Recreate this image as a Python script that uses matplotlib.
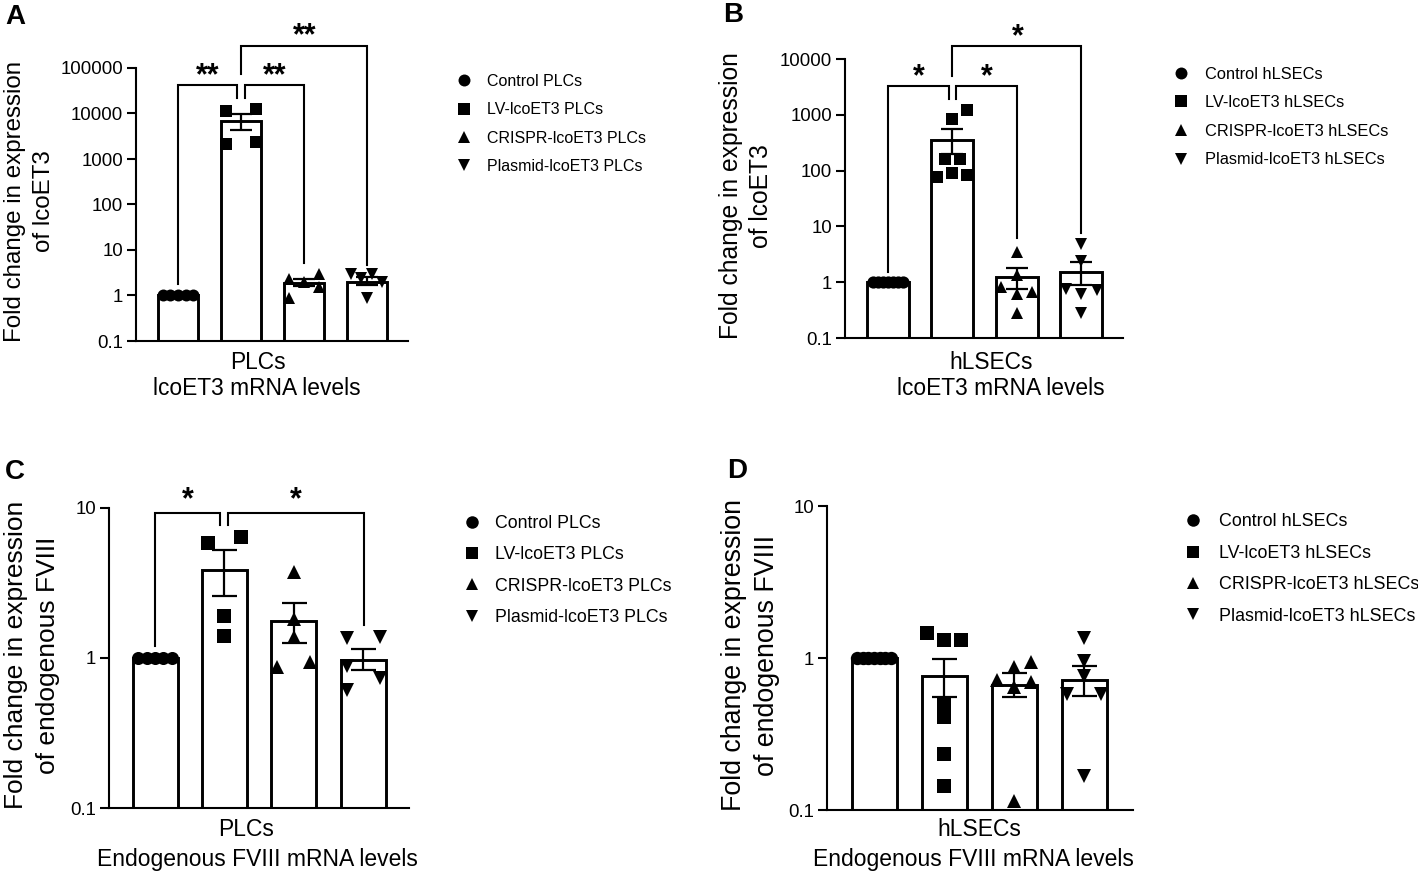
import matplotlib
matplotlib.use('Agg')
import matplotlib.pyplot as plt
from matplotlib.lines import Line2D

plt.rcParams['font.family'] = ['Liberation Sans', 'DejaVu Sans']

W, H = 1418, 872
fig = plt.figure(figsize=(W / 100, H / 100), dpi=100)

groups = ['Control', 'LV-lcoET3', 'CRISPR-lcoET3', 'Plasmid-lcoET3']
shapes = ['o', 's', '^', 'v']

# Panel A values
a_means = [1, 6840, 1.88, 1.98]
a_low = [1, 4400, 1.6, 1.66]
a_high = [1, 9550, 2.34, 2.55]
a_points = [[1, 1, 1, 1, 1],
            [11350, 12770, 2100, 2360],
            [2.31, 0.88, 1.98, 2.97, 1.54],
            [2.97, 2.43, 2.97, 1.98, 0.88]]
a_offsets = [[-0.24, -0.12, 0, 0.12, 0.24],
             [-0.24, 0.24, -0.24, 0.24],
             [-0.24, -0.24, 0, 0.24, 0.24],
             [-0.25, -0.095, 0.08, 0.24, 0]]

# Panel B values
b_means = [1, 357, 1.24, 1.53]
b_low = [1, 200, 0.77, 0.89]
b_high = [1, 554, 1.8, 2.28]
b_points = [[1, 1, 1, 1, 1, 1, 1],
            [1200, 851, 160, 160, 76, 92, 82],
            [3.54, 1.35, 0.83, 0.66, 0.62, 0.285],
            [4.8, 2.4, 0.75, 0.73, 0.62, 0.285]]
b_offsets = [[-0.24, -0.16, -0.08, 0, 0.08, 0.16, 0.24],
             [0.23, 0, -0.12, 0.12, -0.24, 0, 0.23],
             [0, 0, -0.24, 0.24, 0, 0],
             [0, 0, -0.24, 0.24, 0, 0]]

# Panel C values
c_means = [1, 3.84, 1.76, 0.975]
c_low = [1, 2.6, 1.26, 0.83]
c_high = [1, 5.25, 2.33, 1.15]
c_points = [[1, 1, 1, 1, 1],
            [5.84, 6.4, 1.92, 1.41],
            [3.74, 1.83, 1.39, 0.875, 0.945],
            [1.36, 1.39, 0.88, 0.74, 0.61]]
c_offsets = [[-0.24, -0.12, 0, 0.12, 0.24],
             [-0.24, 0.24, 0, 0],
             [0, 0, 0, -0.24, 0.24],
             [-0.24, 0.24, -0.24, 0.24, -0.24]]

# Panel D values
d_means = [1, 0.76, 0.668, 0.717]
d_low = [1, 0.554, 0.554, 0.565]
d_high = [1, 0.985, 0.80, 0.885]
d_points = [[1, 1, 1, 1, 1, 1, 1],
            [1.45, 1.31, 1.32, 0.506, 0.407, 0.232, 0.143],
            [0.945, 0.873, 0.713, 0.695, 0.64, 0.114],
            [1.35, 0.96, 0.766, 0.583, 0.583, 0.167]]
d_offsets = [[-0.24, -0.16, -0.08, 0, 0.08, 0.16, 0.24],
             [-0.24, 0, 0.24, 0, 0, 0, 0],
             [0.24, 0, -0.24, 0.24, 0, 0],
             [0, 0, 0, -0.24, 0.24, 0]]


def fx(px):
    return px / W


def fy(py):
    return 1 - py / H


def panel(box, c0, step, width, ylim, ticks, tick_labels, means, low, high,
          points, offsets, cap, ms):
    left, top, right, bottom = box
    ax = fig.add_axes([fx(left), fy(bottom), (right - left) / W, (bottom - top) / H])
    ax.set_facecolor('none')
    ax.set_xlim((left - c0) / step, (right - c0) / step)
    ax.set_yscale('log')
    ax.set_ylim(*ylim)
    for i in range(4):
        ax.bar(i, means[i] - ylim[0], width / step, bottom=ylim[0], facecolor='white',
               edgecolor='black', linewidth=2.1, zorder=1)
        if i > 0:
            ax.errorbar(i, means[i], yerr=[[means[i] - low[i]], [high[i] - means[i]]],
                        color='black', elinewidth=1.6, capsize=cap, capthick=1.6, zorder=2)
        xs = [i + o for o in offsets[i]]
        ax.plot(xs, points[i], linestyle='none', marker=shapes[i], color='black',
                markersize=ms, markeredgewidth=0, clip_on=False, zorder=3)
    for s in ['top', 'right']:
        ax.spines[s].set_visible(False)
    for s in ['left', 'bottom']:
        ax.spines[s].set_linewidth(1.5)
    ax.set_xticks([])
    ax.set_yticks(ticks)
    ax.set_yticklabels(tick_labels)
    ax.minorticks_off()
    ax.tick_params(axis='y', which='major', length=6.2, width=1.5, labelsize=13.4, pad=3)
    return ax


def bracket(ax, x0, x1, end0, level, end1):
    ax.plot([x0, x0, x1, x1], [end0, level, level, end1], color='black', linewidth=1.5,
            transform=ax.get_xaxis_transform(), clip_on=False, solid_joinstyle='miter', zorder=4)


def stars(ax, x, y, label, size=22):
    ax.text(x, y, label, transform=ax.get_xaxis_transform(), ha='center', va='center',
            fontsize=size, fontweight='bold', color='black')


def legend(ax, cell, marker_x, text_x, mid_y, row, fs, ms):
    handles = [Line2D([], [], linestyle='none', marker=m, color='black', markersize=ms,
                      markeredgewidth=0) for m in shapes]
    labels = [f'{g} {cell}' for g in groups]
    fs_px = fs / 0.72
    ax.legend(handles, labels, loc='center left', frameon=False, fontsize=fs, numpoints=1,
              bbox_to_anchor=(fx(marker_x - fs_px / 2), fy(mid_y)),
              bbox_transform=fig.transFigure, borderpad=0, borderaxespad=0,
              handlelength=1, handletextpad=(text_x - marker_x) / fs_px - 0.5,
              labelspacing=row / fs_px - 0.9)


ax_a = panel((136, 68, 408, 341), 178, 63, 40, (0.1, 100000),
             [0.1, 1, 10, 100, 1000, 10000, 100000],
             ['0.1', '1', '10', '100', '1000', '10000', '100000'],
             a_means, a_low, a_high, a_points, a_offsets, 8, 8.6)
bracket(ax_a, 0, 0.94, 0.2105, 0.939, 0.89)
bracket(ax_a, 1.06, 2, 0.89, 0.939, 0.284)
bracket(ax_a, 1, 3, 0.979, 1.082, 0.278)
stars(ax_a, 0.475, 0.97, '**')
stars(ax_a, 1.535, 0.97, '**')
stars(ax_a, 2.005, 1.115, '**')
legend(ax_a, 'PLCs', 464, 487, 124, 27.7, 11.5, 8.6)

ax_b = panel((845, 59, 1123, 338), 888, 64.4, 42, (0.1, 10000),
             [0.1, 1, 10, 100, 1000, 10000],
             ['0.1', '1', '10', '100', '1000', '10000'],
             b_means, b_low, b_high, b_points, b_offsets, 8, 8.8)
bracket(ax_b, 0, 0.945, 0.238, 0.902, 0.856)
bracket(ax_b, 1.055, 2, 0.856, 0.902, 0.358)
bracket(ax_b, 1, 3, 0.94, 1.048, 0.376)
stars(ax_b, 0.477, 0.933, '*')
stars(ax_b, 1.54, 0.933, '*')
stars(ax_b, 2.01, 1.078, '*')
legend(ax_b, 'hLSECs', 1181, 1205, 117, 28.3, 11.8, 8.6)

ax_c = panel((109, 508, 409, 808), 155, 69.4, 45, (0.1, 10),
             [0.1, 1, 10], ['0.1', '1', '10'],
             c_means, c_low, c_high, c_points, c_offsets, 9, 9.4)
bracket(ax_c, 0, 0.9375, 0.539, 0.982, 0.944)
bracket(ax_c, 1.058, 3.005, 0.944, 0.982, 0.611)
stars(ax_c, 0.466, 1.025, '*')
stars(ax_c, 2.03, 1.025, '*')
legend(ax_c, 'PLCs', 472, 495, 570.5, 30.3, 12.8, 9)

ax_d = panel((827, 506, 1133, 810), 874, 70, 45, (0.1, 10),
             [0.1, 1, 10], ['0.1', '1', '10'],
             d_means, d_low, d_high, d_points, d_offsets, 9, 9.6)
legend(ax_d, 'hLSECs', 1193, 1219, 569, 30.5, 12.85, 9)

# Panel letters
for letter, x, y in [('A', 15, 17), ('B', 733, 15), ('C', 15, 472), ('D', 737, 471)]:
    fig.text(fx(x), fy(y), letter, fontsize=20, fontweight='bold', ha='center', va='center')

# Y axis titles
for txt, x, y, size, gap in [('Fold change in expression\nof lcoET3', 29.5, 201, 17.4, 1.36),
                             ('Fold change in expression\nof lcoET3', 746, 196, 17.7, 1.31),
                             ('Fold change in expression\nof endogenous FVIII', 32, 655, 19, 1.42),
                             ('Fold change in expression\nof endogenous FVIII', 750.5, 655, 19.3, 1.32)]:
    fig.text(fx(x), fy(y), txt, rotation=90, fontsize=size, ha='center', va='center',
             ma='center', linespacing=gap)

# X axis captions
for txt, x, y, size in [('PLCs', 258, 362, 16.4), ('lcoET3 mRNA levels', 257, 388, 16.4),
                        ('hLSECs', 991, 362, 16.4), ('lcoET3 mRNA levels', 1001, 388, 16.4),
                        ('PLCs', 246, 829, 16.5), ('Endogenous FVIII mRNA levels', 257, 859, 16.5),
                        ('hLSECs', 979, 829, 16.5), ('Endogenous FVIII mRNA levels', 973, 859, 16.5)]:
    fig.text(fx(x), fy(y), txt, fontsize=size, ha='center', va='center')

fig.savefig('out.png', dpi=100)
